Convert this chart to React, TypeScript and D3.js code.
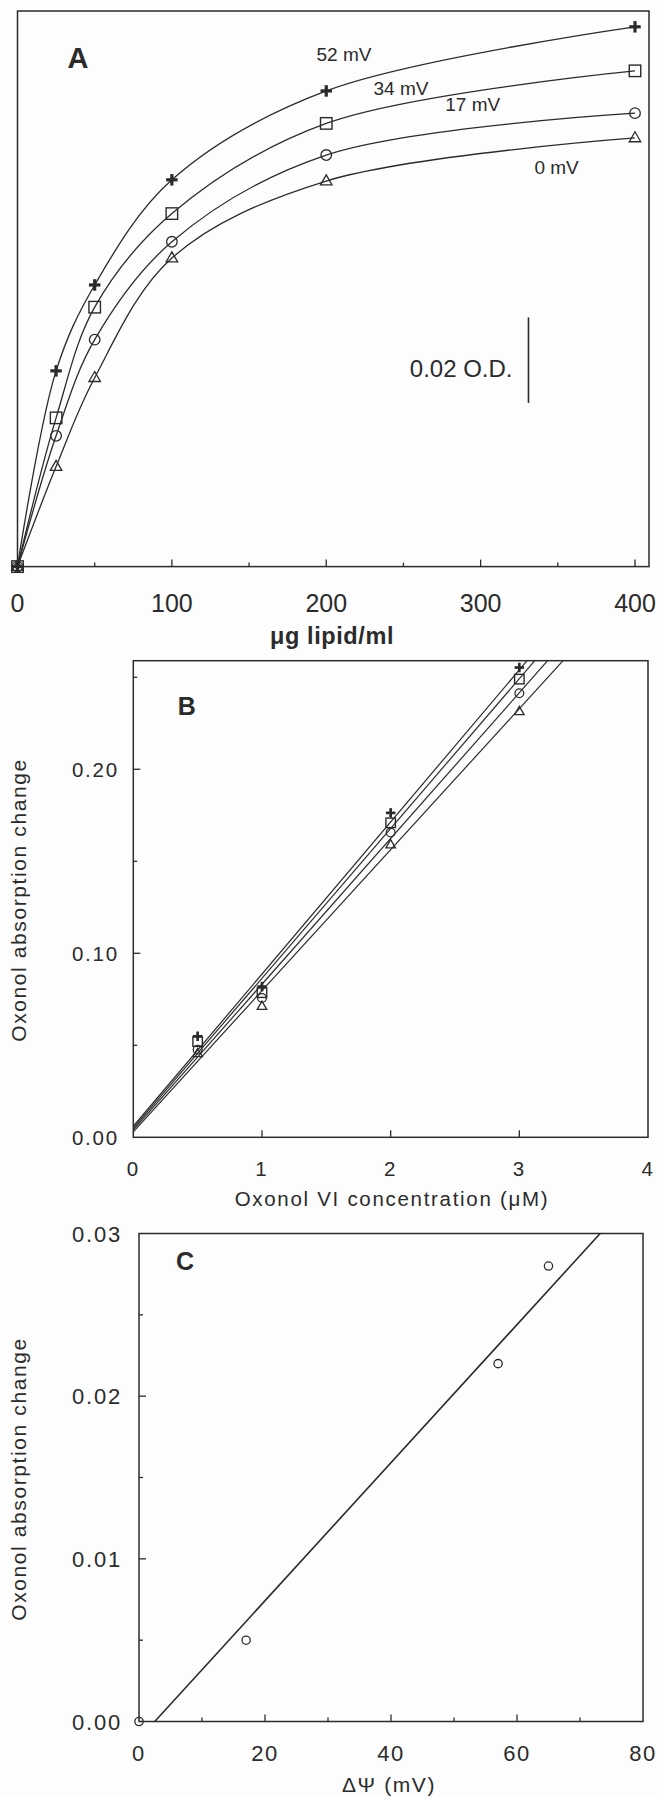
import React from 'react';
import * as d3 from 'd3';

// Panel A: absorption vs lipid, four membrane potentials
const lipidDose = [0, 25, 50, 100, 200, 400];
const od52 = [0, 0.0458, 0.0659, 0.0905, 0.1113, 0.1263];
const od34 = [0, 0.0348, 0.0607, 0.0826, 0.1037, 0.116];
const od17 = [0, 0.0306, 0.0531, 0.076, 0.0963, 0.1061];
const od0 = [0, 0.0234, 0.0442, 0.0722, 0.0902, 0.1003];
const lipidTicks = [0, 100, 200, 300, 400];
const lipidMinor = [50, 150, 250, 350];

// Panel B: absorption vs oxonol concentration
const oxonolConc = [0.5, 1, 2, 3];
const abs52 = [0.0549, 0.0819, 0.1763, 0.2553];
const abs34 = [0.052, 0.0786, 0.1709, 0.249];
const abs17 = [0.0476, 0.0757, 0.1656, 0.2413];
const abs0 = [0.0456, 0.0712, 0.159, 0.2314];
const fit52 = [[0, 0.006], [3.06, 0.259]];
const fit34 = [[0, 0.005], [3.12, 0.259]];
const fit17 = [[0, 0.004], [3.22, 0.259]];
const fit0 = [[0, 0.003], [3.34, 0.259]];
const concTicks = [0, 1, 2, 3, 4];
const bYTicks = [0, 0.1, 0.2];
const bYMinor = [0.05, 0.15, 0.25];

// Panel C: absorption vs membrane potential
const deltaPsi = [0, 17, 57, 65];
const absChange = [0, 0.005, 0.022, 0.028];
const fitC = [[2.5, 0], [73.2, 0.03]];
const psiTicks = [0, 20, 40, 60, 80];
const psiMinor = [10, 30, 50, 70];
const cYTicks = [0, 0.01, 0.02, 0.03];
const cYMinor = [0.005, 0.015, 0.025];

const INK = '#2b2b2b';
const FONT = '"Liberation Sans", Arial, Helvetica, sans-serif';

const Marker = ({ type, x, y, s }) => {
  const h = s / 2;
  if (type === 'plus') {
    return (
      <g stroke={INK} strokeWidth={s * 0.28} strokeLinecap="butt">
        <line x1={x - h} x2={x + h} y1={y} y2={y} />
        <line x1={x} x2={x} y1={y - h} y2={y + h} />
      </g>
    );
  }
  if (type === 'square') {
    return <rect x={x - h} y={y - h} width={s} height={s} fill="none" stroke={INK} strokeWidth={1.4} />;
  }
  if (type === 'circle') {
    return <circle cx={x} cy={y} r={h * 0.92} fill="none" stroke={INK} strokeWidth={1.3} />;
  }
  const th = s * 0.87;
  return (
    <path
      d={`M${x},${y - th * 0.62}L${x + h},${y + th * 0.38}L${x - h},${y + th * 0.38}Z`}
      fill="none"
      stroke={INK}
      strokeWidth={1.3}
    />
  );
};

const series = [
  { type: 'plus', a: od52, b: abs52, fit: fit52 },
  { type: 'square', a: od34, b: abs34, fit: fit34 },
  { type: 'circle', a: od17, b: abs17, fit: fit17 },
  { type: 'triangle', a: od0, b: abs0, fit: fit0 },
];

export default function App() {
  // ---------- panel A ----------
  const ax = d3.scaleLinear().domain([0, 400]).range([17.5, 635]);
  const ay = d3.scaleLinear().domain([0, 0.13]).range([566.6, 11]);
  const aLine = d3
    .line<number>()
    .x((_, i) => ax(lipidDose[i]))
    .y((d) => ay(d))
    .curve(d3.curveCatmullRom.alpha(0.5));
  const scaleBarX = 331;
  const scaleBarBase = 0.0383;
  const scaleBarSize = 0.02;

  // ---------- panel B ----------
  const bx = d3.scaleLinear().domain([0, 4]).range([133.3, 648]);
  const by = d3.scaleLinear().domain([0, 0.259]).range([1137.3, 660.7]);

  // ---------- panel C ----------
  const cx = d3.scaleLinear().domain([0, 80]).range([139, 643]);
  const cy = d3.scaleLinear().domain([0, 0.03]).range([1721.5, 1233.5]);

  const fmt2 = d3.format('.2f');

  return (
    <svg
      width={657}
      height={1797}
      style={{ position: 'absolute', left: 0, top: 0, background: '#fdfdfd' }}
      fontFamily={FONT}
    >
      <rect width={657} height={1797} fill="#fdfdfd" />

      {/* ===== Panel A ===== */}
      <g>
        <rect x={17.5} y={11} width={649 - 17.5} height={566.6 - 11} fill="none" stroke={INK} strokeWidth={1.5} />
        {lipidTicks.slice(1).map((t) => (
          <line key={t} x1={ax(t)} x2={ax(t)} y1={ay(0)} y2={ay(0) - 7} stroke={INK} strokeWidth={1.3} />
        ))}
        {lipidMinor.map((t) => (
          <line key={t} x1={ax(t)} x2={ax(t)} y1={ay(0)} y2={ay(0) - 4} stroke={INK} strokeWidth={1.3} />
        ))}
        {lipidTicks.map((t) => (
          <text key={t} x={ax(t)} y={612} fontSize={25} textAnchor="middle" fill={INK}>
            {t}
          </text>
        ))}
        <text x={332} y={644} fontSize={23.5} fontWeight="bold" letterSpacing={0.6} textAnchor="middle" fill={INK}>
          μg lipid/ml
        </text>
        <text x={78} y={67.5} fontSize={29} fontWeight="bold" textAnchor="middle" fill={INK}>
          A
        </text>

        {series.map((s) => (
          <path key={s.type} d={aLine(s.a) || ''} fill="none" stroke={INK} strokeWidth={1.3} />
        ))}
        {series.map((s) =>
          s.a.map((v, i) => <Marker key={s.type + i} type={s.type} x={ax(lipidDose[i])} y={ay(v)} s={11.5} />)
        )}

        <text x={344} y={60.6} fontSize={19} textAnchor="middle" fill={INK}>52 mV</text>
        <text x={401} y={94.8} fontSize={19} textAnchor="middle" fill={INK}>34 mV</text>
        <text x={472.7} y={110.8} fontSize={19} textAnchor="middle" fill={INK}>17 mV</text>
        <text x={556.6} y={173.8} fontSize={19} textAnchor="middle" fill={INK}>0 mV</text>

        <line
          x1={ax(scaleBarX)}
          x2={ax(scaleBarX)}
          y1={ay(scaleBarBase)}
          y2={ay(scaleBarBase + scaleBarSize)}
          stroke={INK}
          strokeWidth={1.6}
        />
        <text x={512.5} y={376.6} fontSize={24} textAnchor="end" fill={INK}>
          0.02 O.D.
        </text>
      </g>

      {/* ===== Panel B ===== */}
      <g>
        <rect x={133.3} y={660.7} width={648 - 133.3} height={1137.3 - 660.7} fill="none" stroke={INK} strokeWidth={1.5} />
        {concTicks.slice(1, 4).map((t) => (
          <line key={t} x1={bx(t)} x2={bx(t)} y1={by(0)} y2={by(0) - 7} stroke={INK} strokeWidth={1.3} />
        ))}
        {bYTicks.slice(1).map((t) => (
          <line key={t} x1={bx(0)} x2={bx(0) + 7} y1={by(t)} y2={by(t)} stroke={INK} strokeWidth={1.3} />
        ))}
        {bYMinor.map((t) => (
          <line key={t} x1={bx(0)} x2={bx(0) + 4} y1={by(t)} y2={by(t)} stroke={INK} strokeWidth={1.3} />
        ))}
        {concTicks.map((t) => (
          <text key={t} x={bx(t)} y={1175.5} fontSize={20.5} letterSpacing={1.8} textAnchor="middle" fill={INK}>
            {t}
          </text>
        ))}
        {bYTicks.map((t) => (
          <text key={t} x={119} y={by(t) + 7.4} fontSize={20.5} letterSpacing={1.8} textAnchor="end" fill={INK}>
            {fmt2(t)}
          </text>
        ))}
        <text x={392} y={1206} fontSize={20.5} letterSpacing={1.7} textAnchor="middle" fill={INK}>
          Oxonol VI concentration (μM)
        </text>
        <text
          transform="translate(26,900) rotate(-90)"
          fontSize={21}
          letterSpacing={1.6}
          textAnchor="middle"
          fill={INK}
        >
          Oxonol absorption change
        </text>
        <text x={186.7} y={714.7} fontSize={25} fontWeight="bold" textAnchor="middle" fill={INK}>
          B
        </text>

        {series.map((s) => (
          <line
            key={s.type}
            x1={bx(s.fit[0][0])}
            y1={by(s.fit[0][1])}
            x2={bx(s.fit[1][0])}
            y2={by(s.fit[1][1])}
            stroke={INK}
            strokeWidth={1.2}
          />
        ))}
        {series.map((s) =>
          s.b.map((v, i) => <Marker key={s.type + i} type={s.type} x={bx(oxonolConc[i])} y={by(v)} s={9.5} />)
        )}
      </g>

      {/* ===== Panel C ===== */}
      <g>
        <rect x={139} y={1233.5} width={643 - 139} height={1721.5 - 1233.5} fill="none" stroke={INK} strokeWidth={1.5} />
        {psiTicks.slice(1, 4).map((t) => (
          <line key={t} x1={cx(t)} x2={cx(t)} y1={cy(0)} y2={cy(0) - 7} stroke={INK} strokeWidth={1.3} />
        ))}
        {psiMinor.map((t) => (
          <line key={t} x1={cx(t)} x2={cx(t)} y1={cy(0)} y2={cy(0) - 4} stroke={INK} strokeWidth={1.3} />
        ))}
        {cYTicks.slice(1, 3).map((t) => (
          <line key={t} x1={cx(0)} x2={cx(0) + 7} y1={cy(t)} y2={cy(t)} stroke={INK} strokeWidth={1.3} />
        ))}
        {cYMinor.map((t) => (
          <line key={t} x1={cx(0)} x2={cx(0) + 4} y1={cy(t)} y2={cy(t)} stroke={INK} strokeWidth={1.3} />
        ))}
        {psiTicks.map((t) => (
          <text key={t} x={cx(t)} y={1761} fontSize={22} letterSpacing={1.6} textAnchor="middle" fill={INK}>
            {t}
          </text>
        ))}
        {cYTicks.map((t) => (
          <text key={t} x={122} y={cy(t) + 8} fontSize={22} letterSpacing={1.8} textAnchor="end" fill={INK}>
            {fmt2(t)}
          </text>
        ))}
        <text x={389} y={1792} fontSize={21} letterSpacing={1.6} textAnchor="middle" fill={INK}>
          ΔΨ (mV)
        </text>
        <text
          transform="translate(26,1479) rotate(-90)"
          fontSize={21}
          letterSpacing={1.6}
          textAnchor="middle"
          fill={INK}
        >
          Oxonol absorption change
        </text>
        <text x={185} y={1270} fontSize={25} fontWeight="bold" textAnchor="middle" fill={INK}>
          C
        </text>

        <line
          x1={cx(fitC[0][0])}
          y1={cy(fitC[0][1])}
          x2={cx(fitC[1][0])}
          y2={cy(fitC[1][1])}
          stroke={INK}
          strokeWidth={1.6}
        />
        {absChange.map((v, i) => (
          <Marker key={i} type="circle" x={cx(deltaPsi[i])} y={cy(v)} s={9} />
        ))}
      </g>
    </svg>
  );
}
